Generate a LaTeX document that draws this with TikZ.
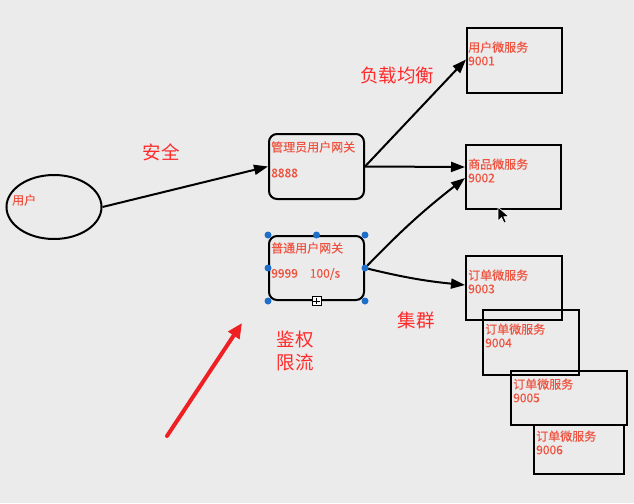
\documentclass[tikz,border=0pt]{standalone}
\usepackage{fontspec}
\setmainfont{Noto Sans CJK SC}
\newfontfamily\lblfont[FakeBold=0.3]{Noto Sans CJK SC}
\usetikzlibrary{arrows.meta,positioning,calc,shapes.geometric}
\definecolor{bg}{HTML}{EBEBEB}
\definecolor{lbl}{HTML}{EE5340}
\definecolor{notered}{HTML}{FF2A2A}
\definecolor{arrowred}{HTML}{EE2024}
\definecolor{handle}{HTML}{1F6FC9}

\begin{document}
\begin{tikzpicture}[
    x=1pt, y=-1pt,
    >={Triangle[length=14pt,width=10pt]},
    svc/.style={draw, line width=2pt, inner sep=0pt},
    gate/.style={svc, rounded corners=8pt},
    txt/.style={font=\lblfont\fontsize{12}{13.5}\selectfont, text=lbl,
                inner sep=0pt, align=left, anchor=west},
    note/.style={font=\fontsize{18.5}{22.5}\selectfont, text=notered,
                 inner sep=0pt, align=left},
    link/.style={->, line width=2pt},
    dot/.style={circle, fill=handle, inner sep=0pt, minimum size=7pt},
]

\fill[bg] (0,0) rectangle (634,503);
\useasboundingbox (0,0) rectangle (634,503);

% client
\node[draw, line width=2pt, ellipse, minimum width=95pt, minimum height=64pt] (user) at (54,207) {};
\node[txt] (usertxt) at (12,200) {用户};

% gateways
\node[gate, minimum width=95pt, minimum height=65pt] (gwadmin) at (316.5,166.5) {};
\node[txt] (gwadmintitle) at ($(gwadmin.north west)+(3,14)$) {管理员用户网关};
\node[txt] (gwadminport) at ($(gwadmin.north west)+(3,40)$) {8888};

\node[gate, minimum width=95pt, minimum height=64pt] (gwuser) at (316.5,268) {};
\node[txt] (gwusertitle) at ($(gwuser.north west)+(3,13)$) {普通用户网关};
\node[txt] (gwuserport) at ($(gwuser.north west)+(3,39)$) {9999\hspace{12pt}100/s};

% micro services
\node[svc, minimum width=95pt, minimum height=65pt] (svcuser) at (514.5,60.5) {};
\node[txt] (svcusertxt) at ($(svcuser.north west)+(2,26.5)$) {用户微服务\\9001};

\node[svc, minimum width=95pt, minimum height=64pt] (svcgoods) at (513.5,177) {};
\node[txt] (svcgoodstxt) at ($(svcgoods.north west)+(3,26.5)$) {商品微服务\\9002};

\node[svc, minimum width=96pt, minimum height=64pt] (svcorder1) at (514,288) {};
\node[txt] (svcorder1txt) at ($(svcorder1.north west)+(3,26.5)$) {订单微服务\\9003};

\node[svc, minimum width=96pt, minimum height=65pt] (svcorder2) at (531,342.5) {};
\node[txt] (svcorder2txt) at ($(svcorder2.north west)+(3,26.5)$) {订单微服务\\9004};

\node[svc, minimum width=116pt, minimum height=54pt] (svcorder3) at (569,398) {};
\node[txt] (svcorder3txt) at ($(svcorder3.north west)+(3,20.5)$) {订单微服务\\9005};

\node[svc, minimum width=90pt, minimum height=49pt] (svcorder4) at (579,449.5) {};
\node[txt] (svcorder4txt) at ($(svcorder4.north west)+(3,18.5)$) {订单微服务\\9006};

% notes
\node[note] (safe) at (161,152) {安全};
\node[note] (balance) at (397,75) {负载均衡};
\node[note] (cluster) at (416,320) {集群};
\node[note] (auth) at (295,351) {鉴权\\限流};

% connectors
\draw[link] (user.east) -- (gwadmin.west);
\draw[link] (gwadmin.east) -- ($(svcuser.west)+(0,-1)$);
\draw[link] (gwadmin.east) -- ($(svcgoods.west)+(0,-10)$);
\draw[link] (gwuser.east) to[bend left=4] ($(svcgoods.west)+(0,1)$);
\draw[link] (gwuser.east) to[bend right=4] ($(svcorder1.west)+(0,-3)$);

\coordinate (redtail) at (167,436);
\coordinate (redtip) at (242,323);
\draw[-{Triangle[length=15pt,width=13pt]}, line width=4pt, draw=arrowred, line cap=round] (redtail) -- (redtip);

% selection handles
\foreach \a in {north west, north, north east, west, east, south west, south east}
    \node[dot] at (gwuser.\a) {};
\node[draw, fill=white, line width=0.7pt, minimum size=9pt, inner sep=0pt] (grip) at (gwuser.south) {};
\draw[line width=0.7pt] ($(grip.north)+(0,1.5)$) -- ($(grip.south)+(0,-1.5)$)
                        ($(grip.west)+(1.5,0)$) -- ($(grip.east)+(-1.5,0)$);

% mouse pointer
\draw[fill=black, draw=white, line width=0.6pt] (498,207) -- ++(0,14) -- ++(3.5,-3.5)
    -- ++(2.5,5.5) -- ++(2.2,-1) -- ++(-2.4,-5.4) -- ++(5,0) -- cycle;

\end{tikzpicture}
\end{document}
